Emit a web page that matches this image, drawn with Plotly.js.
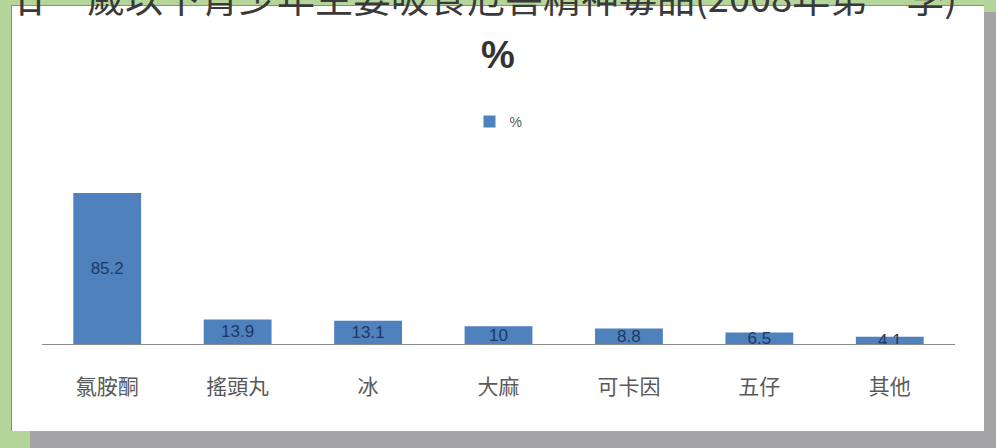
<!DOCTYPE html>
<html>
<head>
<meta charset="utf-8">
<script src="https://cdn.plot.ly/plotly-3.0.1.min.js"></script>
<style>
  html, body { margin: 0; padding: 0; width: 996px; height: 448px; overflow: hidden; background: #b4d69b; }
  #shadow { position: absolute; left: 30px; top: 12px; width: 966px; height: 436px; background: #a4a4a6; }
  #frame { position: absolute; left: 11px; top: 5px; width: 973px; height: 426px; background: #ffffff; border-left: 1px solid #8a8a8a; border-top: 1px solid #8a8a8a; box-sizing: border-box; }
  #chart { position: absolute; left: 0; top: 0; width: 996px; height: 448px; }
</style>
</head>
<body>
<div id="shadow"></div>
<div id="frame"></div>
<div id="chart"></div>
<script>
const titleText = '廿一歲以下青少年主要吸食危害精神毒品(2008年第一季)';
const seriesName = '%';
const categories = ['氯胺酮', '搖頭丸', '冰', '大麻', '可卡因', '五仔', '其他'];
const values = [85.2, 13.9, 13.1, 10, 8.8, 6.5, 4.1];

const cjk = '"Noto Sans CJK TC", "Noto Sans CJK SC", sans-serif';

const trace = {
  type: 'bar',
  name: seriesName,
  x: categories,
  y: values,
  text: values.map(String),
  textposition: 'inside',
  insidetextanchor: 'middle',
  constraintext: 'none',
  textangle: 0,
  textfont: { family: 'Liberation Sans, Arial, sans-serif', size: 17, color: '#1f3864' },
  marker: { color: '#4f81bd', line: { width: 0 } },
  width: 0.52,
  showlegend: true,
  hoverinfo: 'none'
};

// plot area: top pixel 180, bottom pixel 344
const plotTop = 180, plotBottom = 344;
const H = plotBottom - plotTop;
const py = p => (plotBottom - p) / H;

const layout = {
  width: 996,
  height: 448,
  paper_bgcolor: 'rgba(0,0,0,0)',
  plot_bgcolor: 'rgba(0,0,0,0)',
  margin: { l: 42, r: 41, t: plotTop, b: 448 - plotBottom, pad: 0 },
  showlegend: true,
  uniformtext: { mode: 'show', minsize: 17 },
  legend: {
    orientation: 'h',
    x: 0.5, xanchor: 'center',
    y: py(122), yanchor: 'middle',
    font: { family: 'Liberation Sans, Arial, sans-serif', size: 14, color: '#595959' },
    bgcolor: 'rgba(0,0,0,0)'
  },
  xaxis: {
    type: 'category',
    range: [-0.5, 6.5],
    showline: true,
    linecolor: '#8c8c8c',
    linewidth: 1,
    showgrid: false,
    zeroline: false,
    ticks: '',
    ticklabelstandoff: 24,
    tickfont: { family: cjk, size: 21, color: '#595959' },
    fixedrange: true
  },
  yaxis: {
    visible: false,
    range: [0, 92.6],
    fixedrange: true
  },
  annotations: [
    {
      text: titleText,
      xref: 'paper', yref: 'paper',
      x: (484 - 42) / 913, y: py(-4),
      xanchor: 'center', yanchor: 'middle',
      showarrow: false,
      font: { family: cjk, size: 38, color: '#3a3a3a' }
    },
    {
      text: '<b>%</b>',
      xref: 'paper', yref: 'paper',
      x: (498 - 42) / 913, y: py(55),
      xanchor: 'center', yanchor: 'middle',
      showarrow: false,
      font: { family: 'Liberation Sans, Arial, sans-serif', size: 38, color: '#333333' }
    }
  ]
};

Plotly.newPlot('chart', [trace], layout, { displayModeBar: false, staticPlot: true });
</script>
</body>
</html>
